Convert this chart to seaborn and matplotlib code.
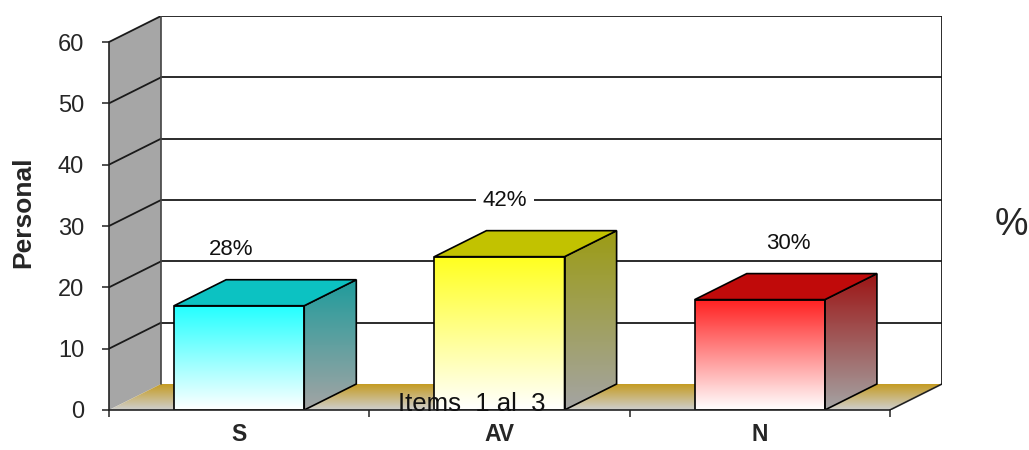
import numpy as np
import pandas as pd
import matplotlib
matplotlib.use("Agg")
import matplotlib.pyplot as plt
from matplotlib.patches import Polygon
from matplotlib.colors import LinearSegmentedColormap
import seaborn as sns

# Survey answers (items 1 to 3)
categories = ["S", "AV", "N"]
counts = [17, 25, 18]
front_colors = ["#22FFFF", "#FFFF1E", "#FF2020"]
top_colors = ["#0CC2C2", "#C2C200", "#C00A0A"]
side_colors = ["#1E9C9C", "#9C9C14", "#9C1414"]
y_ticks = [0, 10, 20, 30, 40, 50, 60]
x_title = "Items  1 al  3"
y_title = "Personal"

sns.set_theme(style="white")
plt.rcParams["font.family"] = ["Liberation Sans", "DejaVu Sans"]

fig = plt.figure(figsize=(10.29, 4.5), dpi=100)
ax = fig.add_axes([109 / 1029, 40 / 450, 833 / 1029, 394 / 450])

# depth of the pseudo-3D box (category units, value units)
DX, DY = 0.2, 4.24
YMAX = 60
XL, XR = -0.5, 2.5

df = pd.DataFrame({"cat": categories, "val": counts})
sns.barplot(data=df, x="cat", y="val", width=0.5, ax=ax,
            edgecolor="black", linewidth=1.2, zorder=1.2)
bars = list(ax.patches)


def gradient(ax, clip, extent, c_bottom, c_top, z):
    cmap = LinearSegmentedColormap.from_list("g", [c_bottom, c_top])
    arr = np.linspace(0, 1, 256).reshape(-1, 1)
    im = ax.imshow(arr, extent=extent, origin="lower", aspect="auto",
                   cmap=cmap, zorder=z, interpolation="bicubic")
    im.set_clip_path(clip)
    return im


# left side wall
wall = Polygon([(XL, 0), (XL + DX, DY), (XL + DX, YMAX + DY), (XL, YMAX)],
               closed=True, facecolor="#A6A6A6", edgecolor="none", zorder=0.3)
ax.add_patch(wall)

# floor
floor = Polygon([(XL, 0), (XR, 0), (XR + DX, DY), (XL + DX, DY)],
                closed=True, facecolor="none", edgecolor="none", zorder=0.45)
ax.add_patch(floor)
gradient(ax, floor, [XL, XR + DX, 0, DY], "#CFCFCF", "#C49A1C", 0.4)
ax.plot([XR, XR + DX], [0, DY], color="#222222", lw=1.2, zorder=0.5)

# gridlines on back and side walls
for v in y_ticks[1:]:
    ax.plot([XL + DX, XR + DX], [v + DY, v + DY], color="#1A1A1A", lw=1.3, zorder=0.5)
    ax.plot([XL, XL + DX], [v, v + DY], color="#1A1A1A", lw=1.3, zorder=0.5)
ax.plot([XL + DX, XL + DX], [DY, YMAX + DY], color="#444444", lw=1.2, zorder=0.5)
ax.plot([XR + DX, XR + DX], [DY, YMAX + DY], color="#1A1A1A", lw=1.3, zorder=0.5)

# 3D bars: gradient front faces, shaded sides and tops
for i, p in enumerate(bars):
    x0, w, h = p.get_x(), p.get_width(), p.get_height()
    x1 = x0 + w
    p.set_facecolor("none")
    p.set_zorder(1.2)
    gradient(ax, p, [x0, x1, 0, h], "#FFFFFF", front_colors[i], 1.1)

    side = Polygon([(x1, 0), (x1 + DX, DY), (x1 + DX, h + DY), (x1, h)], closed=True,
                   facecolor="none", edgecolor="black", lw=1.2, zorder=1.2)
    ax.add_patch(side)
    gradient(ax, side, [x1, x1 + DX, 0, h + DY], "#A4A4A4", side_colors[i], 1.1)

    top = Polygon([(x0, h), (x1, h), (x1 + DX, h + DY), (x0 + DX, h + DY)], closed=True,
                  facecolor=top_colors[i], edgecolor="black", lw=1.2, zorder=1.2)
    ax.add_patch(top)

# percentage labels
total = sum(counts)
label_dx = [-0.03, 0.02, 0.11]
for i, v in enumerate(counts):
    pct = round(v / total * 100)
    ax.text(i + label_dx[i], v + DY + 4.9, f"{pct}%", ha="center", va="center",
            fontsize=16, color="#111111", zorder=2,
            bbox=dict(facecolor="white", edgecolor="none", pad=5) if i == 1 else None)

ax.set_xlim(XL, XR + DX)
ax.set_ylim(0, YMAX + DY)
ax.set_axisbelow(False)

for s in ["top", "right"]:
    ax.spines[s].set_visible(False)
ax.spines["left"].set_bounds(0, YMAX)
ax.spines["bottom"].set_bounds(XL, XR)
for s in ["left", "bottom"]:
    ax.spines[s].set_color("#222222")
    ax.spines[s].set_linewidth(1.2)

ax.set_yticks(y_ticks)
ax.set_yticklabels([str(t) for t in y_ticks])
ax.tick_params(axis="y", which="major", direction="out", length=5, width=1.1,
               color="#222222", pad=13, labelsize=17, left=True)
ax.set_xticks(range(len(categories)))
ax.set_xticklabels(categories, fontweight="bold")
ax.set_xticks([XL + k for k in range(len(categories) + 1)], minor=True)
ax.tick_params(axis="x", which="major", length=0, pad=9.5, labelsize=16.5)
ax.tick_params(axis="x", which="minor", direction="out", length=5, width=1.1,
               color="#222222", bottom=True)

ax.set_xlabel(x_title, fontsize=18.5, color="#111111")
ax.xaxis.set_label_coords((472 - 109) / 833, (410 - 404) / 394)
ax.xaxis.label.set_va("center")
ax.set_ylabel(y_title, fontsize=19, fontweight="bold")
ax.yaxis.set_label_coords((23 - 109) / 833, (410 - 212) / 394)
ax.yaxis.label.set_va("center")

fig.text(1011 / 1029, 1 - 225 / 450, "%", fontsize=27, ha="center", va="center")

fig.savefig("out.png", dpi=100)
